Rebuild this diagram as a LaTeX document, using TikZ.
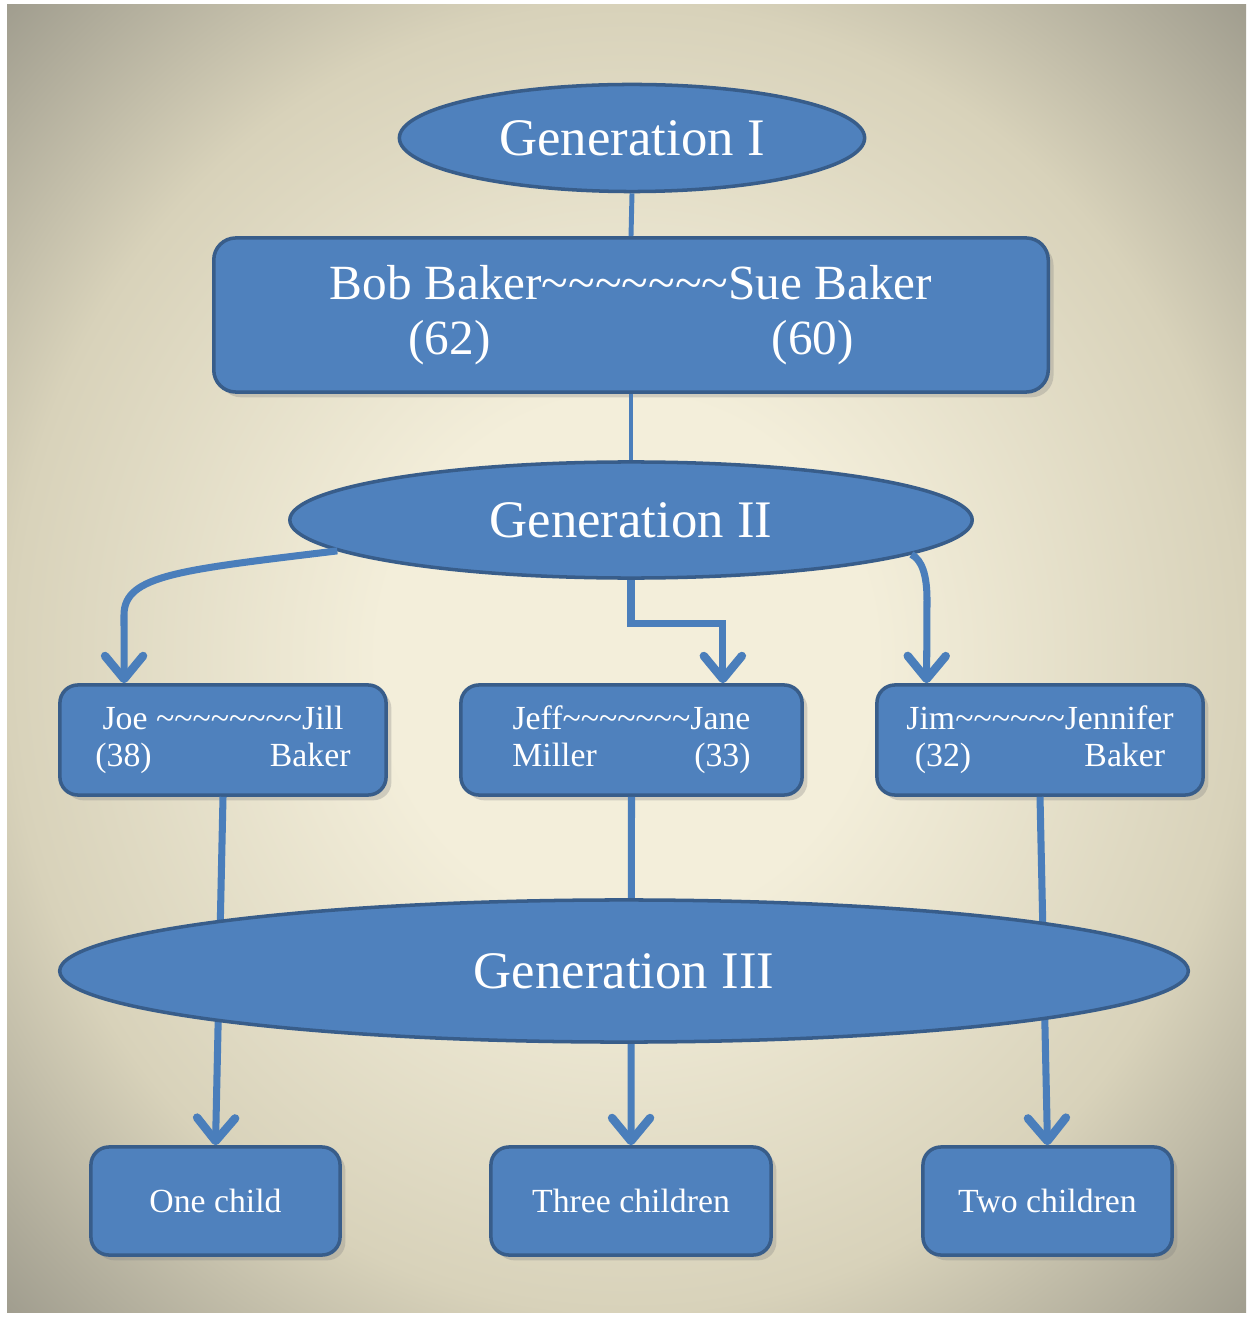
\documentclass[tikz,border=0pt]{standalone}
\usepackage{fontspec}
\setmainfont{Liberation Serif}
\usetikzlibrary{arrows.meta,shapes.geometric,calc,shadows}
\definecolor{boxblue}{HTML}{4F81BD}
\definecolor{edgeblue}{HTML}{385D8A}
\definecolor{lineblue}{HTML}{4A7EBB}
\definecolor{bgin}{HTML}{F3EEDA}
\definecolor{bgmid}{HTML}{D8D2BA}
\definecolor{bgout}{HTML}{9D9A8C}
\pgfdeclareradialshading{paper}{\pgfpoint{0bp}{0bp}}{color(0bp)=(bgin); color(10bp)=(bgin); color(25bp)=(bgmid); color(36bp)=(bgout); color(50bp)=(bgout)}
\newcommand{\waves}[1]{\foreach \w in {1,...,#1}{\textasciitilde}}

\begin{document}
\begin{tikzpicture}[x=0.01cm, y=-0.01cm,
    gen/.style={ellipse, draw=edgeblue, line width=1pt, fill=boxblue, text=white,
        inner sep=0pt, font=\fontsize{15}{18}\selectfont},
    fam/.style={rectangle, rounded corners=0.18cm, draw=edgeblue, line width=1pt,
        fill=boxblue, text=white, align=center, inner sep=0pt,
        font=\fontsize{9.6}{10.6}\selectfont,
        drop shadow={shadow xshift=1.5pt, shadow yshift=-1.5pt, opacity=0.3}},
    link/.style={draw=lineblue, line width=1.4pt},
    arr/.style={draw=lineblue, line width=2pt,
        -{Straight Barb[length=2.3mm,width=3.8mm,round,line width=2.4pt]}}]
    % background
    \useasboundingbox (0,0) rectangle (1253,1319);
    \fill[white] (0,0) rectangle (1253,1319);
    \shade[shading=paper] (7,5) rectangle (1246,1312);

    % generation I
    \node[gen, minimum width=4.65cm, minimum height=1.07cm] (gen1) at (632,138) {Generation I};
    \node[fam, rounded corners=0.22cm, minimum width=8.34cm, minimum height=1.54cm,
        font=\fontsize{14}{15.6}\selectfont] (bob) at (631,315)
        {Bob Baker\waves{7}Sue Baker\\\makebox[4.45cm]{(62)\hfill(60)}};
    \draw[link] (gen1.south) -- (bob.north);

    % generation II
    \node[gen, minimum width=6.82cm, minimum height=1.16cm] (gen2) at (631,520) {Generation II};
    \draw[link] (bob.south) -- (gen2.north);

    \node[fam, minimum width=3.26cm, minimum height=1.10cm] (joe) at (223,740)
        {Joe \waves{8}Jill\\\makebox[2.55cm]{(38)\hfill Baker}};
    \node[fam, minimum width=3.41cm, minimum height=1.10cm] (jeff) at (631.5,740)
        {Jeff\waves{7}Jane\\\makebox[2.38cm]{Miller\hfill(33)}};
    \node[fam, minimum width=3.26cm, minimum height=1.10cm] (jim) at (1040,740)
        {Jim\waves{6}Jennifer\\\makebox[2.5cm]{(32)\hfill Baker}};

    \coordinate (joein) at ($(joe.north west)!0.2!(joe.north east)$);
    \coordinate (jeffin) at ($(jeff.north west)!0.765!(jeff.north east)$);
    \coordinate (jimin) at ($(jim.north west)!0.156!(jim.north east)$);
    \draw[arr] (gen2.186) .. controls (180,570) and (124,575) .. (124,615) -- (joein);
    \draw[arr] (gen2.south) -- ++(0,44) -| (jeffin);
    \draw[arr] (gen2.-7) .. controls (922,560) and (927,575) .. (927,600) -- (jimin);

    % generation III
    \node[fam, minimum width=2.49cm, minimum height=1.08cm] (one) at (215.5,1201) {One child};
    \node[fam, minimum width=2.80cm, minimum height=1.08cm] (three) at (631,1201) {Three children};
    \node[fam, minimum width=2.49cm, minimum height=1.08cm] (two) at (1047.5,1201) {Two children};
    \draw[arr] (joe.south) -- (one.north);
    \draw[arr] (jeff.south) -- (three.north);
    \draw[arr] (jim.south) -- (two.north);
    \node[gen, minimum width=11.28cm, minimum height=1.42cm] (gen3) at (624,971) {Generation III};
\end{tikzpicture}
\end{document}
